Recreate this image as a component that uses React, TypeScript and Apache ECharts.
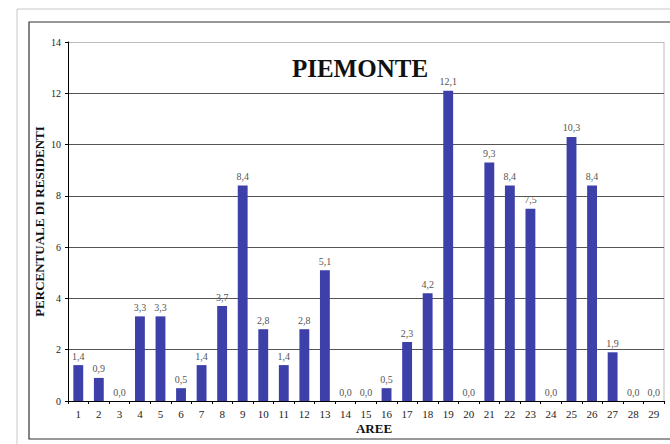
import React, { useEffect, useRef } from "react";
import * as echarts from "echarts";

const categories = ["1","2","3","4","5","6","7","8","9","10","11","12","13","14","15","16","17","18","19","20","21","22","23","24","25","26","27","28","29"];
const values = [1.4,0.9,0.0,3.3,3.3,0.5,1.4,3.7,8.4,2.8,1.4,2.8,5.1,0.0,0.0,0.5,2.3,4.2,12.1,0.0,9.3,8.4,7.5,0.0,10.3,8.4,1.9,0.0,0.0];
const titleText = "PIEMONTE";
const yName = "PERCENTUALE DI RESIDENTI";
const xName = "AREE";

const SERIF = "Liberation Serif";

export default function App() {
  const ref = useRef<HTMLDivElement>(null);
  useEffect(() => {
    const chart = echarts.init(ref.current!, null, { renderer: "svg" });
    chart.setOption({
      animation: false,
      backgroundColor: "#fff",
      textStyle: { fontFamily: SERIF },
      title: {
        text: titleText,
        left: 355,
        textAlign: "center",
        top: 51,
        textStyle: { fontFamily: SERIF, fontWeight: "bold", fontSize: 25, color: "#111" },
      },
      grid: { left: 68, right: 6, top: 42, bottom: 43 },
      xAxis: {
        type: "category",
        data: categories,
        name: xName,
        nameLocation: "middle",
        nameGap: 21,
        nameMoveOverlap: false,
        nameTextStyle: { fontFamily: SERIF, fontWeight: "bold", fontSize: 13, color: "#111", padding: [0, 0, 0, 16] },
        axisLine: { lineStyle: { color: "#000", width: 1 } },
        axisTick: { show: true, length: 3, lineStyle: { color: "#000" } },
        axisLabel: { fontFamily: SERIF, fontSize: 11, color: "#222", margin: 7, interval: 0 },
      },
      yAxis: {
        type: "value",
        min: 0,
        max: 14,
        interval: 2,
        name: yName,
        nameLocation: "middle",
        nameGap: 22,
        nameMoveOverlap: false,
        nameRotate: 90,
        nameTextStyle: { fontFamily: SERIF, fontWeight: "bold", fontSize: 13, color: "#111" },
        axisLine: { show: true, lineStyle: { color: "#000", width: 1 } },
        axisTick: { show: true, length: 3, lineStyle: { color: "#000" } },
        axisLabel: { fontFamily: SERIF, fontSize: 10, color: "#222", margin: 7 },
        splitLine: {
          show: true,
          lineStyle: { color: ["#000", "#555", "#555", "#555", "#555", "#555", "#555", "#bbb"], width: 1 },
        },
      },
      series: [
        {
          type: "bar",
          data: values,
          barWidth: "48%",
          itemStyle: { color: "#3d40a8" },
          label: {
            show: true,
            position: "top",
            distance: 4,
            fontFamily: SERIF,
            fontSize: 10,
            color: "#555",
            formatter: (p: any) => Number(p.value).toFixed(1).replace(".", ","),
          },
        },
      ],
      graphic: [
        {
          type: "rect",
          shape: { x: 17, y: 9, width: 700, height: 500 },
          style: { fill: "none", stroke: "#c8c8c8", lineWidth: 1 },
          silent: true,
          z: -10,
        },
        {
          type: "rect",
          shape: { x: 29, y: 22, width: 700, height: 417 },
          style: { fill: "none", stroke: "#333", lineWidth: 1.2 },
          silent: true,
          z: -10,
        },
        {
          type: "line",
          shape: { x1: 664, y1: 42, x2: 664, y2: 401 },
          style: { stroke: "#bbb", lineWidth: 1 },
          silent: true,
        },
      ],
    });
    return () => chart.dispose();
  }, []);
  return (
    <div
      ref={ref}
      style={{ position: "fixed", left: 0, top: 0, width: 670, height: 444 }}
    />
  );
}
